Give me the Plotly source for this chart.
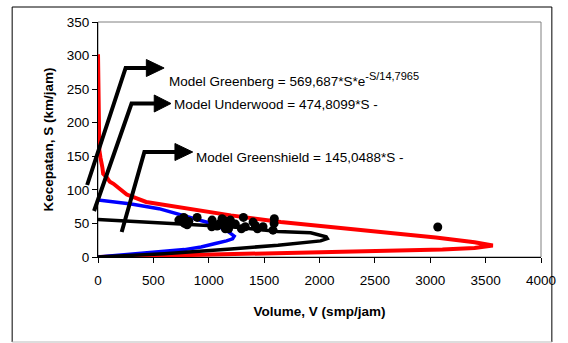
import plotly.graph_objects as go

# Volume–speed model curves (V in smp/jam, S in km/jam)
greenberg_v = [0, 3, 8, 12, 22, 28, 33, 40, 47, 77, 107, 140, 211, 260, 435, 800, 1200,
               1650, 2220, 2800, 3050, 3400, 3565, 3400, 3110, 2520, 1700, 900, 450, 0]
greenberg_s = [302, 250, 200, 159, 148, 145, 139, 133, 124, 119, 112, 109, 100, 93, 82, 72, 62,
               52, 42, 33, 29, 22, 17, 13.5, 11, 8.7, 6, 3, 1.5, 0]

underwood_v = [0, 100, 300, 550, 780, 1000, 1150, 1230, 1215, 1160, 1060, 930, 780, 600, 450, 170, 0]
underwood_s = [85, 83, 79, 72, 61, 51, 41, 31, 27, 24, 20, 15, 11, 8.5, 6.5, 3, 0]

greenshield_v = [0, 600, 1200, 1625, 1920, 2060, 2070, 2010, 1625, 1200, 600, 0]
greenshield_s = [56, 51, 45, 38, 36, 30, 27.5, 24, 17.5, 12, 5, 0]

# Observed volume / speed pairs
obs_v = [730, 775, 780, 805, 820, 895, 1030, 1027, 1075, 1100, 1120, 1134, 1146, 1150,
         1179, 1195, 1206, 1240, 1295, 1313, 1330, 1400, 1420, 1440, 1490, 1592, 1590,
         1580, 3068]
obs_s = [55, 59, 50, 48, 53, 59, 55, 45, 46, 50, 57, 47, 54, 42,
         42, 55, 50, 49, 42, 59, 45, 52, 47, 42, 45, 57, 50,
         40, 44.6]

x_ticks = [0, 500, 1000, 1500, 2000, 2500, 3000, 3500, 4000]
y_ticks = [0, 50, 100, 150, 200, 250, 300, 350]

model_labels = [
    "Model Greenberg = 569,687*S*e<sup><span style='font-size:11px'>-S/14,7965</span></sup>",
    "Model Underwood = 474,8099*S -",
    "Model Greenshield = 145,0488*S -",
]

FONT = "Arial, Liberation Sans, sans-serif"
W, H = 568, 343
ML, MR, MT, MB = 98, 21, 22, 86
PW, PH = W - ML - MR, H - MT - MB


def px(x):
    return (x - ML) / PW


def py(y):
    return (H - MB - y) / PH


fig = go.Figure()
fig.add_trace(go.Scatter(x=greenberg_v, y=greenberg_s, mode="lines",
                         line=dict(color="#FF0000", width=4)))
fig.add_trace(go.Scatter(x=underwood_v, y=underwood_s, mode="lines",
                         line=dict(color="#0000FF", width=3.5)))
fig.add_trace(go.Scatter(x=greenshield_v, y=greenshield_s, mode="lines",
                         line=dict(color="#000000", width=3.5)))
fig.add_trace(go.Scatter(x=obs_v, y=obs_s, mode="markers",
                         marker=dict(color="#000000", size=9)))

shapes = []
# plot-area frame (grey top/right), chart frame
shapes.append(dict(type="rect", xref="paper", yref="paper", x0=0, y0=0, x1=1, y1=1,
                   line=dict(color="#808080", width=1), layer="below"))
fx0, fx1, fy0, fy1 = px(11), px(558), py(342), py(7)
for (a, b, c, d, col) in [(fx0, fy0, fx0, fy1, "#000000"), (fx0, fy1, fx1, fy1, "#000000"),
                          (fx1, fy1, fx1, fy0, "#000000"), (fx0, fy0, fx1, fy0, "#BBBBBB")]:
    shapes.append(dict(type="line", xref="paper", yref="paper", x0=a, y0=b, x1=c, y1=d,
                       line=dict(color=col, width=1)))

# callout arrows: (start, elbow, end of shaft, arrowhead tip)
callouts = [
    ((87, 185), (126, 68), (148, 68), 165),
    ((94, 211), (132, 103.5), (156, 103.5), 172),
    ((122, 232), (145, 152), (177, 152), 194),
]
for (s, e, t, tip) in callouts:
    path = f"M {px(s[0])},{py(s[1])} L {px(e[0])},{py(e[1])} L {px(t[0])},{py(t[1])}"
    shapes.append(dict(type="path", xref="paper", yref="paper", path=path,
                       line=dict(color="#000000", width=4), layer="above"))
    hx = t[0] - 1
    head = (f"M {px(hx)},{py(t[1] - 8.5)} L {px(tip)},{py(t[1])} "
            f"L {px(hx)},{py(t[1] + 8.5)} Z")
    shapes.append(dict(type="path", xref="paper", yref="paper", path=head,
                       fillcolor="#000000", line=dict(color="#000000", width=1),
                       layer="above"))

annotations = []
label_pos = [(168, 79), (173, 104.5), (195, 157)]
for text, (lx, ly) in zip(model_labels, label_pos):
    annotations.append(dict(xref="paper", yref="paper", x=px(lx), y=py(ly),
                            xanchor="left", yanchor="middle", showarrow=False,
                            text=text, font=dict(family=FONT, size=13.5, color="#000000")))

fig.update_layout(
    width=W, height=H,
    margin=dict(l=ML, r=MR, t=MT, b=MB),
    paper_bgcolor="white", plot_bgcolor="white",
    showlegend=False,
    font=dict(family=FONT, size=13.5, color="#000000"),
    shapes=shapes,
    annotations=annotations,
    xaxis=dict(range=[0, 4000], tickvals=x_ticks, ticktext=[str(v) for v in x_ticks],
               showgrid=False, zeroline=False, showline=True, linecolor="#000000",
               linewidth=1, ticks="outside", ticklen=5, tickcolor="#000000",
               ticklabelstandoff=6,
               title=dict(text="<b>Volume, V (smp/jam)</b>", standoff=19,
                          font=dict(family=FONT, size=13.5))),
    yaxis=dict(range=[0, 350], tickvals=y_ticks, ticktext=[str(v) for v in y_ticks],
               showgrid=False, zeroline=False, showline=True, linecolor="#000000",
               linewidth=1, ticks="outside", ticklen=5, tickcolor="#000000",
               title=dict(text="<b>Kecepatan, S (km/jam)</b>", standoff=10,
                          font=dict(family=FONT, size=13.5))),
)

fig.write_html("out.html")
